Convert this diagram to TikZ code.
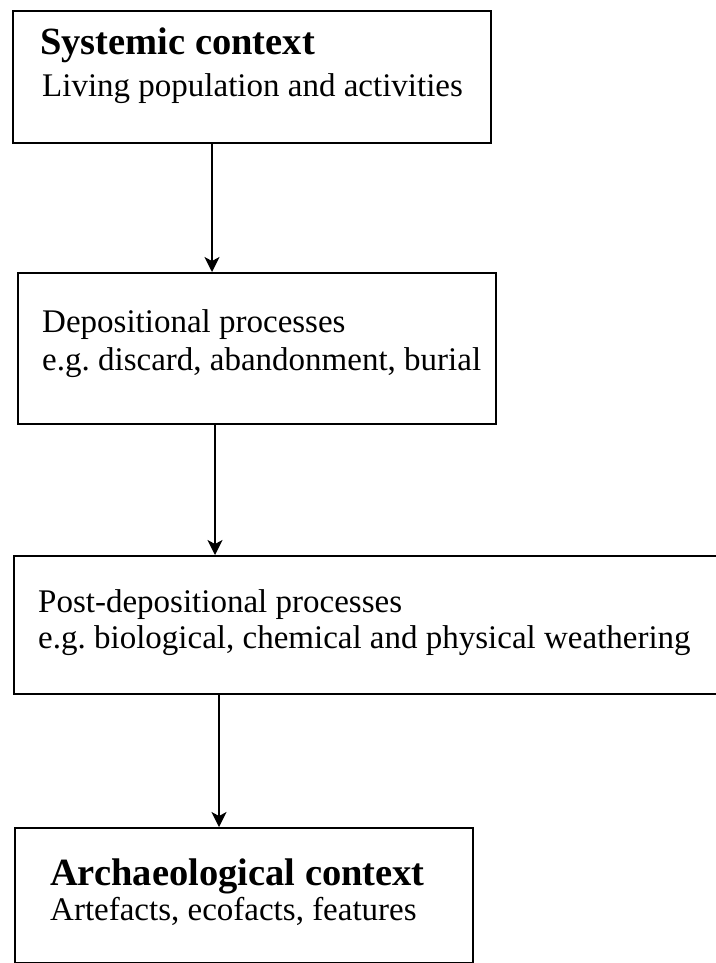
\documentclass[tikz,border=0pt]{standalone}
\usepackage{fontspec}
\setmainfont{Liberation Serif}
\usetikzlibrary{arrows.meta}
\frenchspacing

\begin{document}
\begin{tikzpicture}[x=1pt,y=-1pt,
  frame/.style={draw=black,line width=1.8pt,rectangle,inner sep=0pt,anchor=north west},
  headtext/.style={anchor=base west,inner sep=0pt,font=\fontsize{38.5}{42}\selectfont\bfseries},
  bodytext/.style={anchor=base west,inner sep=0pt,font=\fontsize{33}{38}\selectfont},
  flow/.style={draw=black,line width=1.6pt,-{Stealth[length=15pt,width=15pt,inset=4pt]}}]
  \useasboundingbox (0,0) rectangle (715,963);

  % frames
  \node[frame,minimum width=478pt,minimum height=132pt] (b1) at (12,10) {};
  \node[frame,minimum width=478pt,minimum height=151pt] (b2) at (17,272) {};
  \node[frame,minimum width=730pt,minimum height=138pt] (b3) at (13,555) {};
  \node[frame,minimum width=458pt,minimum height=135pt] (b4) at (14,827) {};

  % texts
  \node[headtext] (t1a) at (40,55) {Systemic context};
  \node[bodytext] (t1b) at (42,97) {Living population and activities};
  \node[bodytext] (t2a) at (42,332) {Depositional processes};
  \node[bodytext] (t2b) at (42,370) {e.g. discard, abandonment, burial};
  \node[bodytext] (t3a) at (38,612) {Post-depositional processes};
  \node[bodytext] (t3b) at (38,648) {e.g. biological, chemical and physical weathering};
  \node[headtext] (t4a) at (50,885) {Archaeological context};
  \node[bodytext] (t4b) at (50,920) {Artefacts, ecofacts, features};

  % connectors
  \coordinate (c1) at (212,0);
  \coordinate (c2) at (215,0);
  \coordinate (c3) at (219,0);
  \draw[flow] (b1.south -| c1) -- (b2.north -| c1);
  \draw[flow] (b2.south -| c2) -- (b3.north -| c2);
  \draw[flow] (b3.south -| c3) -- (b4.north -| c3);
\end{tikzpicture}
\end{document}
